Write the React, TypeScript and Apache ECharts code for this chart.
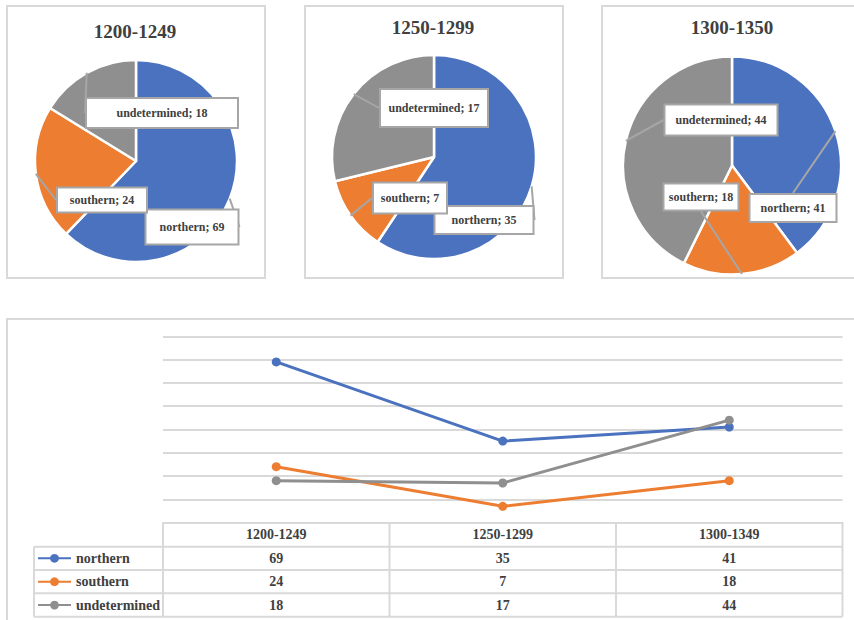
import React, { useEffect, useRef } from 'react';
import * as echarts from 'echarts';

// ---- data ----
const seriesNames = ['northern', 'southern', 'undetermined'];
const pieTitles = ['1200-1249', '1250-1299', '1300-1350'];
const tableCategories = ['1200-1249', '1250-1299', '1300-1349'];
const northern = [69, 35, 41];
const southern = [24, 7, 18];
const undetermined = [18, 17, 44];
const valueRows = [northern, southern, undetermined];

// ---- styles / layout ----
const colors = ['#4A72BF', '#ED7D31', '#8F8F8F'];
const textColor = '#404040';
const borderGray = '#D9D9D9';
const calloutGray = '#A6A6A6';
const serif = 'Liberation Serif';

const pieCenters = [[136, 161], [434, 157], [732, 165.5]];
const pieRadii = [101, 102, 109];
const titlePos = [[135, 31], [433, 27], [732, 27]];
// per pie, per data item (northern, southern, undetermined): [cx, cy, w, h]
const labelBoxes = [
  [[192, 227, 95, 37], [102, 200, 92, 27], [162, 113, 154, 32]],
  [[484, 220, 101, 30], [410, 198, 76, 33], [434, 108, 110, 40]],
  [[793, 208, 89, 30], [701, 197, 77, 29], [721, 120, 115, 33]],
];
const panelRects = [
  [7, 6, 258, 272],
  [305, 6, 258, 272],
  [602, 6, 270, 272],
  [7, 319, 870, 320],
];

const gridLeft = 163;
const gridRight = 842.5;
const gridTop = 336.3;
const gridBottomY = 522.6;
const rowLines = [546.7, 570, 593.3, 616.7];
const rowCenters = [534.6, 558.3, 581.7, 605];
const legendLeftX = 34;

export default function App() {
  const ref = useRef<HTMLDivElement>(null);
  useEffect(() => {
    if (!ref.current) return;
    const chart = echarts.init(ref.current, undefined, { renderer: 'svg' });

    const pieSeries = pieTitles.map((t, p) => ({
      type: 'pie',
      name: t,
      center: pieCenters[p],
      radius: pieRadii[p],
      startAngle: 90,
      clockwise: true,
      avoidLabelOverlap: false,
      data: seriesNames.map((n, i) => {
        const b = labelBoxes[p][i];
        return {
          name: n,
          value: valueRows[i][p],
          itemStyle: { color: colors[i] },
          label: { width: b[2] - 4, height: b[3] - 4, lineHeight: b[3] - 4 },
        };
      }),
      itemStyle: { borderColor: '#fff', borderWidth: 2.5 },
      label: {
        show: true,
        position: 'outside',
        formatter: '{b}; {c}',
        fontFamily: serif,
        fontWeight: 'bold',
        fontSize: 12,
        color: textColor,
        backgroundColor: '#fff',
        borderColor: calloutGray,
        borderWidth: 2,
        padding: 0,
        align: 'center',
        verticalAlign: 'middle',
      },
      labelLine: {
        show: true,
        showAbove: true,
        length: 0,
        length2: 0,
        lineStyle: { color: calloutGray, width: 2 },
      },
      labelLayout: (params: any) => {
        const b = labelBoxes[p][params.dataIndex];
        return { x: b[0], y: b[1], align: 'center', verticalAlign: 'middle' };
      },
      emphasis: { disabled: true },
    }));

    const lineSeries = seriesNames.map((n, i) => ({
      type: 'line',
      name: n,
      xAxisIndex: 0,
      yAxisIndex: 0,
      data: valueRows[i],
      symbol: 'circle',
      symbolSize: 9,
      color: colors[i],
      itemStyle: { color: colors[i] },
      lineStyle: { color: colors[i], width: 3 },
      emphasis: { disabled: true },
    }));

    const rowAxes = valueRows.map((row, r) => ({
      type: 'category',
      gridIndex: 0,
      position: 'bottom',
      data: row.map((v) => String(v)),
      boundaryGap: true,
      axisLine: { show: false },
      axisTick: { show: false },
      splitLine: { show: false },
      axisLabel: {
        margin: rowCenters[r + 1] - gridBottomY,
        verticalAlign: 'middle',
        fontFamily: serif,
        fontWeight: 'bold',
        fontSize: 14,
        color: textColor,
      },
    }));

    const graphics: any[] = [];
    panelRects.forEach((r) =>
      graphics.push({
        type: 'rect',
        z: -10,
        silent: true,
        shape: { x: r[0], y: r[1], width: r[2], height: r[3] },
        style: { fill: 'none', stroke: borderGray, lineWidth: 2 },
      })
    );
    pieTitles.forEach((t, p) =>
      graphics.push({
        type: 'text',
        x: titlePos[p][0],
        y: titlePos[p][1],
        style: {
          text: t,
          align: 'center',
          verticalAlign: 'middle',
          fontFamily: serif,
          fontWeight: 'bold',
          fontSize: 19,
          fill: textColor,
        },
      })
    );
    rowLines.forEach((y) =>
      graphics.push({
        type: 'line',
        silent: true,
        shape: { x1: legendLeftX, y1: y, x2: gridRight, y2: y },
        style: { stroke: borderGray, lineWidth: 2 },
      })
    );
    const bandW = (gridRight - gridLeft) / tableCategories.length;
    for (let k = 0; k <= tableCategories.length; k++) {
      const x = gridLeft + bandW * k;
      graphics.push({
        type: 'line',
        silent: true,
        shape: { x1: x, y1: gridBottomY, x2: x, y2: rowLines[rowLines.length - 1] },
        style: { stroke: borderGray, lineWidth: 2 },
      });
    }
    graphics.push({
      type: 'line',
      silent: true,
      shape: { x1: legendLeftX, y1: rowLines[0], x2: legendLeftX, y2: rowLines[rowLines.length - 1] },
      style: { stroke: borderGray, lineWidth: 2 },
    });

    chart.setOption({
      animation: false,
      graphic: graphics,
      legend: {
        data: seriesNames,
        orient: 'vertical',
        left: 37,
        top: rowCenters[1] - 7,
        padding: 0,
        itemWidth: 33,
        itemHeight: 11,
        itemGap: rowCenters[2] - rowCenters[1] - 14,
        selectedMode: false,
        textStyle: {
          fontFamily: serif,
          fontWeight: 'bold',
          fontSize: 14,
          lineHeight: 14,
          height: 14,
          verticalAlign: 'middle',
          color: textColor,
        },
      },
      grid: {
        left: gridLeft,
        right: 854 - gridRight,
        top: gridTop,
        bottom: 620 - gridBottomY,
        containLabel: false,
      },
      xAxis: [
        {
          type: 'category',
          gridIndex: 0,
          position: 'bottom',
          data: tableCategories,
          boundaryGap: true,
          axisLine: { show: true, lineStyle: { color: borderGray, width: 2 } },
          axisTick: { show: false },
          axisLabel: {
            margin: rowCenters[0] - gridBottomY,
            verticalAlign: 'middle',
            fontFamily: serif,
            fontWeight: 'bold',
            fontSize: 14,
            color: textColor,
          },
        },
        ...rowAxes,
      ],
      yAxis: {
        type: 'value',
        min: 0,
        max: 80,
        interval: 10,
        axisLabel: { show: false },
        axisLine: { show: false },
        axisTick: { show: false },
        splitLine: { lineStyle: { color: borderGray, width: 2 } },
      },
      series: [...pieSeries, ...lineSeries],
    } as any);

    return () => chart.dispose();
  }, []);

  return (
    <div
      ref={ref}
      style={{ position: 'absolute', left: 0, top: 0, width: 854, height: 620, background: '#fff' }}
    />
  );
}
